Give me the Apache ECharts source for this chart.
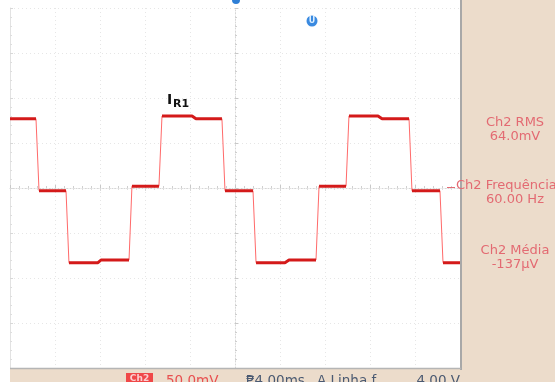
<!DOCTYPE html>
<html><head><meta charset="utf-8">
<script src="https://cdn.jsdelivr.net/npm/echarts@6/dist/echarts.min.js"></script>
<style>html,body{margin:0;padding:0;background:#fff}#c{width:555px;height:382px}</style>
</head><body><div id="c"></div>
<script>
// Time relative to trigger (ms), 4 ms/div
const timeMs = [-20, -17.69, -17.42, -15.02, -14.76, -12.18, -11.91, -9.42, -9.16, -6.76, -6.49, -3.82, -3.47, -1.16, -0.89, 1.6, 1.87, 4.44, 4.8, 7.2, 7.47, 9.87, 10.13, 12.71, 13.07, 15.47, 15.73, 18.22, 18.49, 20];
// Ch2 voltage (mV), 50 mV/div
const ch2mV = [77, 77, -3, -3, -83, -83, -80, -80, 2, 2, 80, 80, 77, 77, -3, -3, -83, -83, -80, -80, 2, 2, 80, 80, 77, 77, -3, -3, -83, -83];
const yTicks = [-200, -150, -100, -50, 0, 50, 100, 150, 200];
const measureLabels = ['Ch2 RMS', 'Ch2 Frequência', 'Ch2 Média'];
const measureValues = ['64.0mV', '60.00 Hz', '-137µV'];
const statusTexts = ['Ch2', '50.0mV', '₱4.00ms', 'A Linha ƒ', '4.00 V'];

const full = timeMs.map((t, i) => [t, ch2mV[i]]);
const flats = [];
for (let i = 0; i < timeMs.length; i++) {
  flats.push([timeMs[i], ch2mV[i]]);
  if (i < timeMs.length - 1 && Math.abs(ch2mV[i + 1] - ch2mV[i]) > 20) flats.push([ (timeMs[i]+timeMs[i+1])/2, null]);
}

const chart = echarts.init(document.getElementById('c'), null, {renderer: 'canvas'});
const panel = '#ecdccb';
const measColor = '#e36a72';
const font = 'DejaVu Sans';
const graphics = [
  {type: 'rect', shape: {x: 462, y: 0, width: 93, height: 382}, style: {fill: panel}, z: 0},
  {type: 'rect', shape: {x: 10, y: 369, width: 452, height: 13}, style: {fill: panel}, z: 0},
  {type: 'line', shape: {x1: 461, y1: 0, x2: 461, y2: 370}, style: {stroke: '#a8a8a8', lineWidth: 2}, z: 5},
  {type: 'line', shape: {x1: 10, y1: 368.5, x2: 461, y2: 368.5}, style: {stroke: '#b5b5b5', lineWidth: 1.5}, z: 5},
  {type: 'line', shape: {x1: 447, y1: 187.5, x2: 455, y2: 187.5}, style: {stroke: measColor, lineWidth: 1}, z: 6},
  // trigger position marker
  {type: 'circle', shape: {cx: 236, cy: 0, r: 4}, style: {fill: '#2e7fd6'}, z: 10},
  {type: 'circle', shape: {cx: 312, cy: 21, r: 5.5}, style: {fill: '#3a8ae0'}, z: 10},
  {type: 'text', x: 312, y: 21, style: {text: 'U', fill: '#dff0ff', font: 'bold 8px ' + font, align: 'center', verticalAlign: 'middle'}, z: 11},
  // I_R1 label
  {type: 'text', x: 167, y: 93, style: {text: 'I', fill: '#111', font: 'bold 14px ' + font, align: 'left', verticalAlign: 'top'}, z: 12},
  {type: 'text', x: 173, y: 99, style: {text: 'R1', fill: '#111', font: 'bold 11px ' + font, align: 'left', verticalAlign: 'top'}, z: 12}
];
const measY = [[123, 137], [186, 200], [251, 265]];
measureLabels.forEach((l, i) => {
  if (i === 1) {
    graphics.push({type: 'text', x: 456, y: measY[i][0], style: {text: l, fill: measColor, font: '13px ' + font, align: 'left', verticalAlign: 'middle'}, z: 6});
  } else {
    graphics.push({type: 'text', x: 515, y: measY[i][0], style: {text: l, fill: measColor, font: '13px ' + font, align: 'center', verticalAlign: 'middle'}, z: 6});
  }
  graphics.push({type: 'text', x: 515, y: measY[i][1], style: {text: measureValues[i], fill: measColor, font: '13px ' + font, align: 'center', verticalAlign: 'middle'}, z: 6});
});
graphics.push({type: 'rect', shape: {x: 126, y: 373, width: 27, height: 10}, style: {fill: '#f04848'}, z: 6});
graphics.push({type: 'text', x: 139.5, y: 379, style: {text: statusTexts[0], fill: '#fbd0d0', font: 'bold 9px ' + font, align: 'center', verticalAlign: 'middle'}, z: 7});
graphics.push({type: 'text', x: 166, y: 381, style: {text: statusTexts[1], fill: '#e85050', font: '13.5px ' + font, align: 'left', verticalAlign: 'middle'}, z: 7});
graphics.push({type: 'text', x: 246, y: 381, style: {text: statusTexts[2], fill: '#4b5a72', font: '13.5px ' + font, align: 'left', verticalAlign: 'middle'}, z: 7});
graphics.push({type: 'text', x: 317, y: 381, style: {text: statusTexts[3], fill: '#4b5a72', font: '13.5px ' + font, align: 'left', verticalAlign: 'middle'}, z: 7});
graphics.push({type: 'text', x: 460, y: 381, style: {text: statusTexts[4], fill: '#4b5a72', font: '13.5px ' + font, align: 'right', verticalAlign: 'middle'}, z: 7});

const gridLine = {show: true, lineStyle: {color: '#e6e6e6', type: [1, 3], width: 1}};
chart.setOption({
  animation: false,
  backgroundColor: '#ffffff',
  grid: {left: 10, top: 8, width: 450, height: 360, show: false},
  xAxis: [
    {type: 'value', min: -20, max: 20, interval: 4, position: 'bottom',
     axisLine: {show: true, onZero: true, lineStyle: {color: '#d6d6d6', type: [1, 2]}},
     axisTick: {show: true, inside: true, length: 3, lineStyle: {color: '#c8c8c8'}},
     minorTick: {show: true, splitNumber: 5, length: 2, lineStyle: {color: '#cfcfcf'}},
     axisLabel: {show: false}, splitLine: gridLine},
    {type: 'value', min: -20, max: 20, interval: 4, position: 'top',
     axisLine: {show: false}, axisTick: {show: true, inside: true, length: 3, lineStyle: {color: '#d8d8d8'}},
     minorTick: {show: true, splitNumber: 5, length: 2, lineStyle: {color: '#dedede'}},
     axisLabel: {show: false}, splitLine: {show: false}}
  ],
  yAxis: [
    {type: 'value', min: yTicks[0], max: yTicks[yTicks.length - 1], interval: 50, position: 'left',
     axisLine: {show: true, onZero: true, lineStyle: {color: '#d6d6d6', type: [1, 2]}},
     axisTick: {show: true, inside: true, length: 3, lineStyle: {color: '#c8c8c8'}},
     minorTick: {show: true, splitNumber: 5, length: 2, lineStyle: {color: '#cfcfcf'}},
     axisLabel: {show: false}, splitLine: gridLine},
    {type: 'value', min: -200, max: 200, interval: 50, position: 'left',
     axisLine: {show: true, onZero: false, lineStyle: {color: '#e2e2e2'}}, axisTick: {show: true, inside: true, length: 3, lineStyle: {color: '#d8d8d8'}},
     minorTick: {show: true, splitNumber: 5, length: 2, lineStyle: {color: '#dedede'}},
     axisLabel: {show: false}, splitLine: {show: false}}
  ],
  series: [
    {type: 'line', data: full, symbol: 'none', lineStyle: {color: '#ff6a6a', width: 1}, z: 3},
    {type: 'line', data: flats, symbol: 'none', connectNulls: false, lineStyle: {color: '#d41a1a', width: 3}, z: 4}
  ],
  graphic: graphics
});
</script></body></html>
